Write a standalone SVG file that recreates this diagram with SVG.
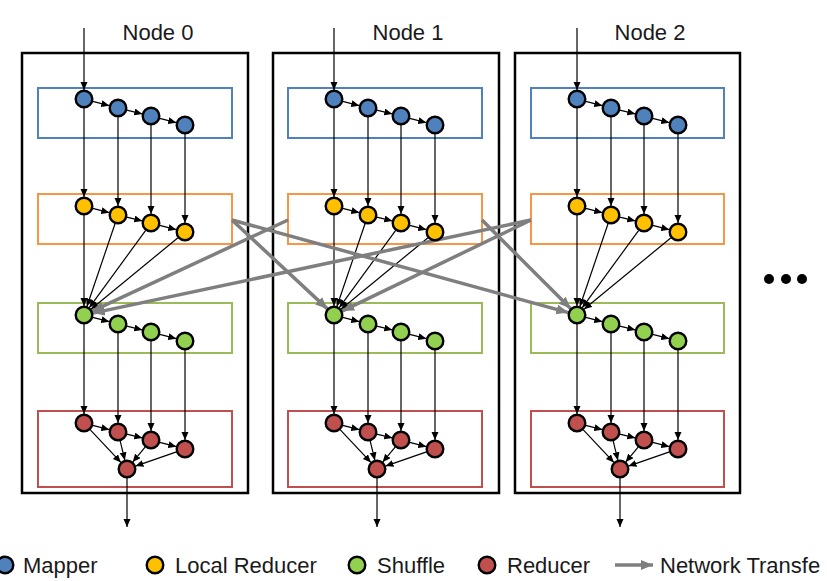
<svg xmlns="http://www.w3.org/2000/svg" xmlns:xlink="http://www.w3.org/1999/xlink" width="827" height="581" viewBox="0 0 827 581">
<style>
.box{fill:none;stroke:#000;stroke-width:2.5}
.rb{fill:none;stroke:#4f81bd;stroke-width:2}
.ro{fill:none;stroke:#f79646;stroke-width:2}
.rg{fill:none;stroke:#9bbb59;stroke-width:2}
.rr{fill:none;stroke:#c0504d;stroke-width:2}
.e{stroke:#000;stroke-width:1.2;fill:none;marker-end:url(#ah)}
.g{stroke:#7f7f7f;stroke-width:3.5;fill:none;marker-end:url(#gh)}
.m{fill:#4f81bd;stroke:#000;stroke-width:2.4}
.l{fill:#ffc000;stroke:#000;stroke-width:2.4}
.s{fill:#92d050;stroke:#000;stroke-width:2.4}
.r{fill:#c0504d;stroke:#000;stroke-width:2.4}
text{font-family:"Liberation Sans",Arial,sans-serif;font-size:22px;fill:#1a1a1a}
.t{text-anchor:middle}
</style>
<defs>
<marker id="ah" markerUnits="userSpaceOnUse" markerWidth="9" markerHeight="8" refX="8" refY="3.5" orient="auto"><path d="M0,0 L8,3.5 L0,7 z" fill="#000"/></marker>
<marker id="gh" markerUnits="userSpaceOnUse" markerWidth="13" markerHeight="11" refX="12" refY="5" orient="auto"><path d="M0,0 L12,5 L0,10 z" fill="#7f7f7f"/></marker>
<g id="edges">
<line class="e" x1="84" y1="28" x2="84" y2="90"/>
<line class="e" x1="92.7" y1="101.3" x2="109.3" y2="105.7"/>
<line class="e" x1="126.7" y1="110.1" x2="142.3" y2="113.9"/>
<line class="e" x1="159.7" y1="118.3" x2="176.3" y2="122.7"/>
<line class="e" x1="84" y1="108" x2="84" y2="197"/>
<line class="e" x1="118" y1="117" x2="118" y2="206"/>
<line class="e" x1="151" y1="125" x2="151" y2="214"/>
<line class="e" x1="185" y1="134" x2="185" y2="223"/>
<line class="e" x1="92.7" y1="208.3" x2="109.3" y2="212.7"/>
<line class="e" x1="126.7" y1="217.1" x2="142.3" y2="220.9"/>
<line class="e" x1="159.7" y1="225.3" x2="176.3" y2="229.7"/>
<line class="e" x1="84" y1="215" x2="84" y2="306"/>
<line class="e" x1="115.1" y1="223.5" x2="86.9" y2="306.5"/>
<line class="e" x1="145.7" y1="230.3" x2="89.3" y2="307.7"/>
<line class="e" x1="178" y1="237.7" x2="91" y2="309.3"/>
<line class="e" x1="92.7" y1="317.3" x2="109.3" y2="321.7"/>
<line class="e" x1="126.7" y1="326.1" x2="142.3" y2="329.9"/>
<line class="e" x1="159.7" y1="334.3" x2="176.3" y2="338.7"/>
<line class="e" x1="84" y1="324" x2="84" y2="414"/>
<line class="e" x1="118" y1="333" x2="118" y2="423"/>
<line class="e" x1="151" y1="341" x2="151" y2="431"/>
<line class="e" x1="185" y1="350" x2="185" y2="440"/>
<line class="e" x1="92.7" y1="425.3" x2="109.3" y2="429.7"/>
<line class="e" x1="126.7" y1="434.1" x2="142.3" y2="437.9"/>
<line class="e" x1="159.7" y1="442.3" x2="176.3" y2="446.7"/>
<line class="e" x1="90.1" y1="429.6" x2="120.9" y2="462.4"/>
<line class="e" x1="120.1" y1="440.7" x2="124.9" y2="460.3"/>
<line class="e" x1="145.3" y1="446.9" x2="132.7" y2="462.1"/>
<line class="e" x1="176.5" y1="451.9" x2="135.5" y2="466.1"/>
<line class="e" x1="127" y1="478" x2="127" y2="527"/>
</g>
</defs>
<rect width="827" height="581" fill="#fff"/>
<g id="frames">
<text class="t" x="158" y="40">Node 0</text>
<text class="t" x="408" y="40">Node 1</text>
<text class="t" x="650" y="40">Node 2</text>
<rect class="box" x="22" y="53" width="226" height="440"/>
<rect class="box" x="273" y="53" width="226" height="440"/>
<rect class="box" x="515" y="53" width="225" height="440"/>
<g>
<rect class="rb" x="38" y="88" width="194" height="50"/>
<rect class="ro" x="38" y="194" width="194" height="50"/>
<rect class="rg" x="38" y="303" width="194" height="50"/>
<rect class="rr" x="38" y="411" width="194" height="76"/>
</g>
<g transform="translate(250,0)">
<rect class="rb" x="38" y="88" width="194" height="50"/>
<rect class="ro" x="38" y="194" width="194" height="50"/>
<rect class="rg" x="38" y="303" width="194" height="50"/>
<rect class="rr" x="38" y="411" width="194" height="76"/>
</g>
<g transform="translate(493,0)">
<rect class="rb" x="38" y="88" width="193" height="50"/>
<rect class="ro" x="38" y="194" width="193" height="50"/>
<rect class="rg" x="38" y="303" width="193" height="50"/>
<rect class="rr" x="38" y="411" width="193" height="76"/>
</g>
<circle cx="769" cy="279" r="5" fill="#000"/>
<circle cx="786" cy="279" r="5" fill="#000"/>
<circle cx="802" cy="279" r="5" fill="#000"/>
</g>
<g id="connectors">
<use xlink:href="#edges"/>
<use xlink:href="#edges" transform="translate(250,0)"/>
<use xlink:href="#edges" transform="translate(493,0)"/>
<line class="g" x1="232" y1="220" x2="327.4" y2="308.9"/>
<line class="g" x1="232" y1="220" x2="568.3" y2="312.6"/>
<line class="g" x1="288" y1="220" x2="92.2" y2="311.2"/>
<line class="g" x1="482" y1="220" x2="570.6" y2="308.6"/>
<line class="g" x1="531" y1="220" x2="92.8" y2="313.1"/>
<line class="g" x1="531" y1="220" x2="342.1" y2="311.1"/>
</g>
<g id="node0">
<g id="n0-map1"><circle class="m" cx="84" cy="99" r="8.3"/></g>
<g id="n0-map2"><circle class="m" cx="118" cy="108" r="8.3"/></g>
<g id="n0-map3"><circle class="m" cx="151" cy="116" r="8.3"/></g>
<g id="n0-map4"><circle class="m" cx="185" cy="125" r="8.3"/></g>
<g id="n0-loc1"><circle class="l" cx="84" cy="206" r="8.3"/></g>
<g id="n0-loc2"><circle class="l" cx="118" cy="215" r="8.3"/></g>
<g id="n0-loc3"><circle class="l" cx="151" cy="223" r="8.3"/></g>
<g id="n0-loc4"><circle class="l" cx="185" cy="232" r="8.3"/></g>
<g id="n0-shf1"><circle class="s" cx="84" cy="315" r="8.3"/></g>
<g id="n0-shf2"><circle class="s" cx="118" cy="324" r="8.3"/></g>
<g id="n0-shf3"><circle class="s" cx="151" cy="332" r="8.3"/></g>
<g id="n0-shf4"><circle class="s" cx="185" cy="341" r="8.3"/></g>
<g id="n0-red1"><circle class="r" cx="84" cy="423" r="8.3"/></g>
<g id="n0-red2"><circle class="r" cx="118" cy="432" r="8.3"/></g>
<g id="n0-red3"><circle class="r" cx="151" cy="440" r="8.3"/></g>
<g id="n0-red4"><circle class="r" cx="185" cy="449" r="8.3"/></g>
<g id="n0-red5"><circle class="r" cx="127" cy="469" r="8.3"/></g>
</g>
<g id="node1">
<g id="n1-map1"><circle class="m" cx="334" cy="99" r="8.3"/></g>
<g id="n1-map2"><circle class="m" cx="368" cy="108" r="8.3"/></g>
<g id="n1-map3"><circle class="m" cx="401" cy="116" r="8.3"/></g>
<g id="n1-map4"><circle class="m" cx="435" cy="125" r="8.3"/></g>
<g id="n1-loc1"><circle class="l" cx="334" cy="206" r="8.3"/></g>
<g id="n1-loc2"><circle class="l" cx="368" cy="215" r="8.3"/></g>
<g id="n1-loc3"><circle class="l" cx="401" cy="223" r="8.3"/></g>
<g id="n1-loc4"><circle class="l" cx="435" cy="232" r="8.3"/></g>
<g id="n1-shf1"><circle class="s" cx="334" cy="315" r="8.3"/></g>
<g id="n1-shf2"><circle class="s" cx="368" cy="324" r="8.3"/></g>
<g id="n1-shf3"><circle class="s" cx="401" cy="332" r="8.3"/></g>
<g id="n1-shf4"><circle class="s" cx="435" cy="341" r="8.3"/></g>
<g id="n1-red1"><circle class="r" cx="334" cy="423" r="8.3"/></g>
<g id="n1-red2"><circle class="r" cx="368" cy="432" r="8.3"/></g>
<g id="n1-red3"><circle class="r" cx="401" cy="440" r="8.3"/></g>
<g id="n1-red4"><circle class="r" cx="435" cy="449" r="8.3"/></g>
<g id="n1-red5"><circle class="r" cx="377" cy="469" r="8.3"/></g>
</g>
<g id="node2">
<g id="n2-map1"><circle class="m" cx="577" cy="99" r="8.3"/></g>
<g id="n2-map2"><circle class="m" cx="611" cy="108" r="8.3"/></g>
<g id="n2-map3"><circle class="m" cx="644" cy="116" r="8.3"/></g>
<g id="n2-map4"><circle class="m" cx="678" cy="125" r="8.3"/></g>
<g id="n2-loc1"><circle class="l" cx="577" cy="206" r="8.3"/></g>
<g id="n2-loc2"><circle class="l" cx="611" cy="215" r="8.3"/></g>
<g id="n2-loc3"><circle class="l" cx="644" cy="223" r="8.3"/></g>
<g id="n2-loc4"><circle class="l" cx="678" cy="232" r="8.3"/></g>
<g id="n2-shf1"><circle class="s" cx="577" cy="315" r="8.3"/></g>
<g id="n2-shf2"><circle class="s" cx="611" cy="324" r="8.3"/></g>
<g id="n2-shf3"><circle class="s" cx="644" cy="332" r="8.3"/></g>
<g id="n2-shf4"><circle class="s" cx="678" cy="341" r="8.3"/></g>
<g id="n2-red1"><circle class="r" cx="577" cy="423" r="8.3"/></g>
<g id="n2-red2"><circle class="r" cx="611" cy="432" r="8.3"/></g>
<g id="n2-red3"><circle class="r" cx="644" cy="440" r="8.3"/></g>
<g id="n2-red4"><circle class="r" cx="678" cy="449" r="8.3"/></g>
<g id="n2-red5"><circle class="r" cx="620" cy="469" r="8.3"/></g>
</g>
<g id="legend">
<circle class="m" cx="5" cy="565" r="8.3"/>
<text x="23" y="573">Mapper</text>
<circle class="l" cx="155" cy="565" r="8.3"/>
<text x="175" y="573">Local Reducer</text>
<circle class="s" cx="357" cy="565" r="8.3"/>
<text x="377" y="573">Shuffle</text>
<circle class="r" cx="487" cy="565" r="8.3"/>
<text x="507" y="573">Reducer</text>
<line class="g" x1="615" y1="565" x2="653" y2="565"/>
<text x="660" y="573">Network Transfe</text>
</g>
</svg>
